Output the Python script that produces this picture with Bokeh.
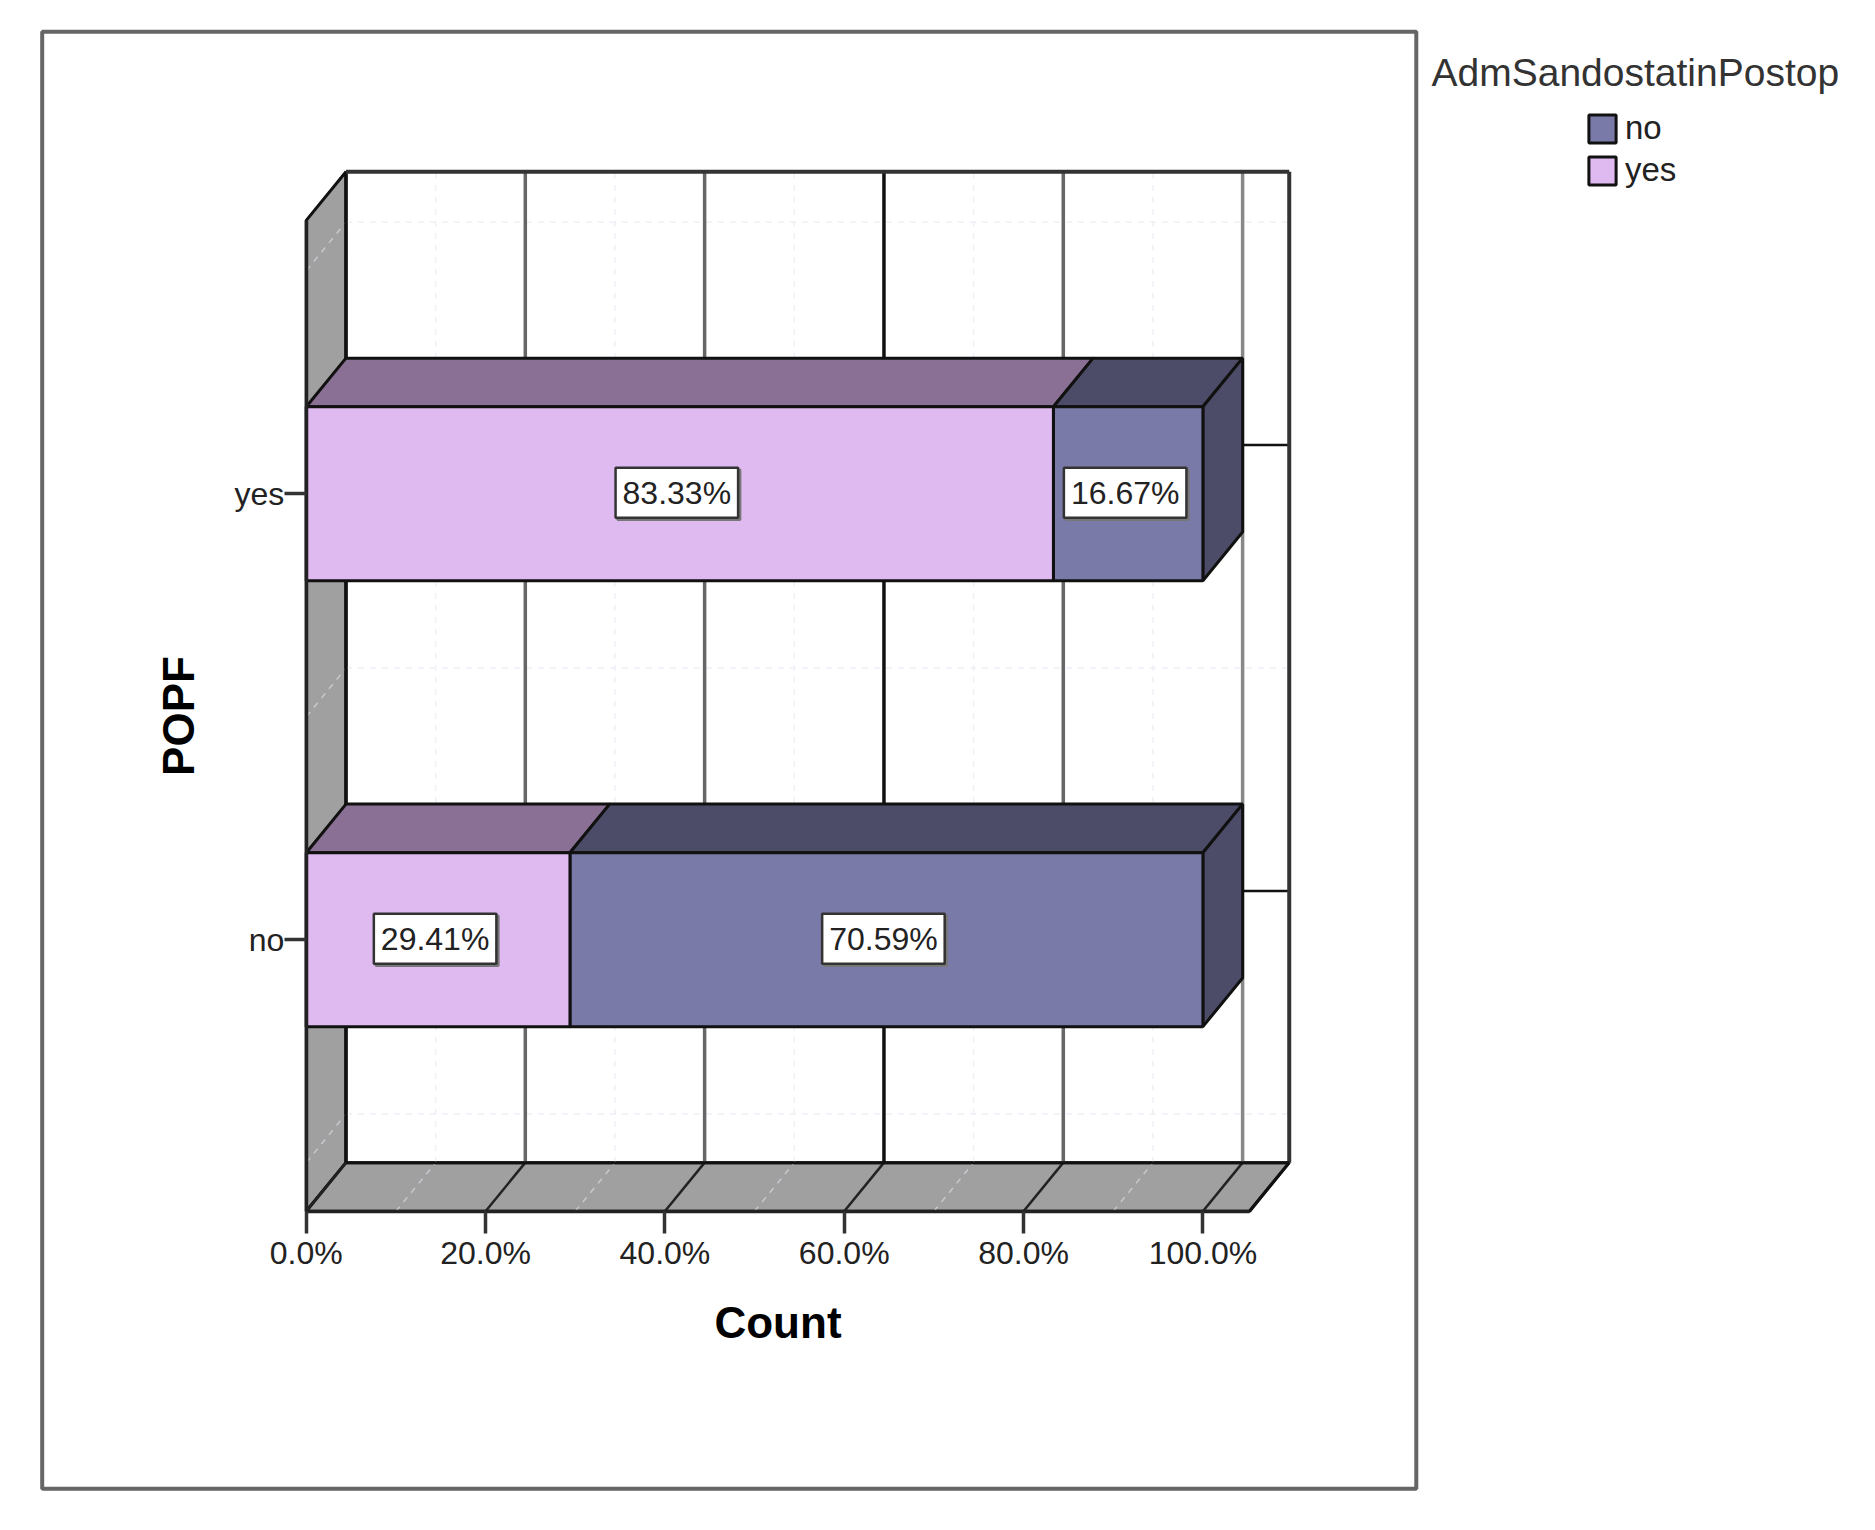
from bokeh.plotting import figure
from bokeh.embed import file_html
from bokeh.resources import INLINE
from bokeh.models import LinearAxis, FixedTicker, Legend, LegendItem, Label
from bokeh.core.properties import value

categories = ["no", "yes"]
pct_yes = [29.41, 83.33]
pct_no = [70.59, 16.67]
x_ticks = [0, 20, 40, 60, 80, 100]
x_minor = [10, 30, 50, 70, 90]
y_minor = [0.5, 1.5, 2.5]
legend_title = "AdmSandostatinPostop"
x_title = "Count"
y_title = "POPF"

FONT = "Liberation Sans"
YES_F, YES_T = "#debaf1", "#8a7094"
NO_F, NO_T = "#7a7aa8", "#4c4c68"
WALL = "#a0a0a0"
INK = "#111111"

# full canvas range, and the outer chart box inside it
RX0, RX1 = -34.1, 173.23
RY0, RY1 = -0.289, 3.106
X0, X1 = -29.45, 123.8
Y0, Y1 = -0.231, 3.036
DX, DY = 4.43, 0.109
XF = 105.2
YL, YH = 0.391, 2.613
BAR = 0.195

p = figure(width=1859, height=1514, x_range=(RX0, RX1), y_range=(RY0, RY1),
           x_axis_type=None, y_axis_type=None, toolbar_location=None, output_backend="svg",
           min_border_left=0, min_border_right=0, min_border_top=0, min_border_bottom=0,
           outline_line_color=None, background_fill_color="white", border_fill_color="white")
p.grid.visible = False

p.quad(left=[X0], right=[X1], bottom=[Y0], top=[Y1], fill_color="white", line_color="#666666", line_width=4)

# walls
p.patch([0, DX, DX, 0], [YL, YL + DY, YH + DY, YH], fill_color=WALL, line_color=INK, line_width=3)
p.patch([0, XF, XF + DX, DX], [YL, YL, YL + DY, YL + DY], fill_color=WALL, line_color=INK, line_width=3)

# minor grid
p.segment([v + DX for v in x_minor], YL + DY, [v + DX for v in x_minor], YH + DY, line_color="#eef0f6", line_width=1.5, line_dash="6 6")
p.segment(x_minor, YL, [v + DX for v in x_minor], YL + DY, line_color="#c8c8d0", line_width=1.5, line_dash="6 6")
p.segment(DX, [v + DY for v in y_minor], XF + DX, [v + DY for v in y_minor], line_color="#eef0f6", line_width=1.5, line_dash="6 6")
p.segment(0, y_minor, DX, [v + DY for v in y_minor], line_color="#c8c8d0", line_width=1.5, line_dash="6 6")

# major back grid
grid_cols = ["#111111", "#666666", "#666666", "#111111", "#666666", "#888888"]
p.segment([v + DX for v in x_ticks], YL + DY, [v + DX for v in x_ticks], YH + DY, line_color=grid_cols, line_width=3.5)
p.segment(x_ticks, YL, [v + DX for v in x_ticks], YL + DY, line_color="#222222", line_width=2.5)
p.segment(DX, [1 + DY, 2 + DY], XF + DX, [1 + DY, 2 + DY], line_color=INK, line_width=2.5)
p.segment(XF + DX, YL + DY, XF + DX, YH + DY, line_color="#333333", line_width=4)
p.segment(DX, YH + DY, XF + DX, YH + DY, line_color="#333333", line_width=4)
p.segment(DX, YL + DY, XF + DX, YL + DY, line_color=INK, line_width=3)
p.segment(XF, YL, XF + DX, YL + DY, line_color=INK, line_width=3)

# bars
ys = [1, 2]
for y, a, b in zip(ys, pct_yes, pct_no):
    t = y + BAR
    p.patch([0, a, a + DX, DX], [t, t, t + DY, t + DY], fill_color=YES_T, line_color=INK, line_width=3)
    p.patch([a, a + b, a + b + DX, a + DX], [t, t, t + DY, t + DY], fill_color=NO_T, line_color=INK, line_width=3)
    p.patch([a + b, a + b + DX, a + b + DX, a + b], [t, t + DY, y - BAR + DY, y - BAR], fill_color=NO_T, line_color=INK, line_width=3)

r_no = p.quad(left=pct_yes, right=[a + b for a, b in zip(pct_yes, pct_no)],
              bottom=[y - BAR for y in ys], top=[y + BAR for y in ys],
              fill_color=NO_F, line_color=INK, line_width=3)
r_yes = p.quad(left=0, right=pct_yes, bottom=[y - BAR for y in ys], top=[y + BAR for y in ys],
               fill_color=YES_F, line_color=INK, line_width=3)

# value labels
lx = [a / 2 for a in pct_yes] + [a + b / 2 for a, b in zip(pct_yes, pct_no)]
ly = ys + ys
lt = [f"{v:.2f}%" for v in pct_yes + pct_no]
for off, bg, bc in ((2, "#777777", "#777777"), (0, "white", "#333333")):
    p.text(lx, ly, text=lt, x_offset=off - 3, y_offset=off - 1, text_align="center", text_baseline="middle",
           text_font=value(FONT), text_font_size="32px", text_color="#222222" if off == 0 else "#777777",
           background_fill_color=bg, border_line_color=bc, border_line_width=2.5, padding=7)

# axes
xa = LinearAxis(fixed_location=YL, ticker=FixedTicker(ticks=x_ticks), axis_label=x_title, bounds=(0, XF))
xa.major_label_overrides = {v: f"{v:.1f}%" for v in x_ticks}
ya = LinearAxis(fixed_location=0, ticker=FixedTicker(ticks=ys), axis_label=y_title, bounds=(YL, YH))
ya.major_label_overrides = {1: categories[0], 2: categories[1]}
for ax in (xa, ya):
    ax.major_tick_out = 22
    ax.major_tick_in = 0
    ax.minor_tick_out = 0
    ax.minor_tick_in = 0
    ax.major_tick_line_color = "#333333"
    ax.major_tick_line_width = 3.5
    ax.axis_line_color = "#222222"
    ax.axis_line_width = 3.5
    ax.major_label_text_font = FONT
    ax.major_label_text_font_size = "32px"
    ax.major_label_text_color = "#222222"
    ax.axis_label_text_font = FONT
    ax.axis_label_text_font_size = "44px"
    ax.axis_label_text_font_style = "bold"
    ax.axis_label_text_color = "black"
xa.major_label_standoff = 2
xa.axis_label_standoff = 23
ya.major_label_standoff = 0
ya.axis_label_standoff = 29
p.add_layout(xa, "below")
p.add_layout(ya, "left")

# legend
leg = Legend(items=[LegendItem(label="no", renderers=[r_no]), LegendItem(label="yes", renderers=[r_yes])],
             location=(1585, 1325), orientation="vertical", background_fill_alpha=0, border_line_color=None,
             glyph_width=34, glyph_height=35, spacing=4, padding=0, margin=0, label_standoff=6,
             label_text_font=FONT, label_text_font_size="33px", label_text_color="#222222")
p.add_layout(leg, "center")

p.add_layout(Label(x=125.5, y=2.944, text=legend_title, text_font=FONT, text_font_size="39px",
                   text_color="#333333", text_baseline="middle", text_align="left"))

open("out.html", "w").write(file_html(p, INLINE))
